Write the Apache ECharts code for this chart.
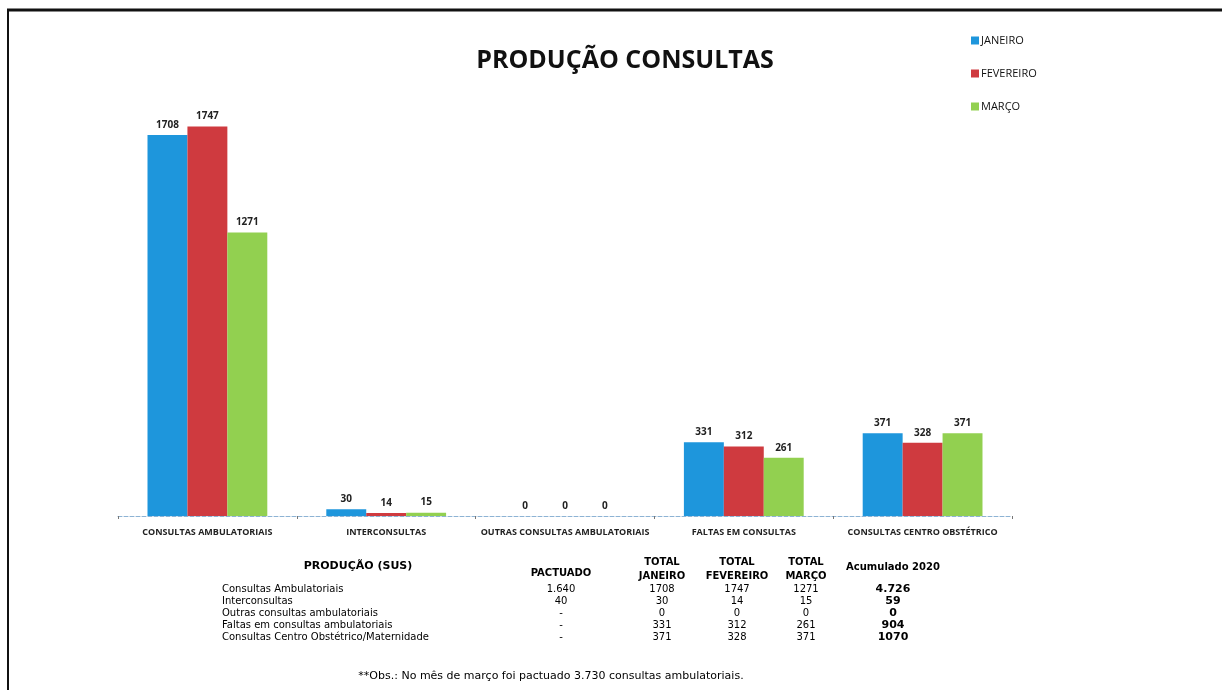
<!DOCTYPE html>
<html>
<head>
<meta charset="utf-8">
<script src="https://cdn.jsdelivr.net/npm/echarts@6/dist/echarts.min.js"></script>
<style>
  html, body { margin: 0; padding: 0; background: #fff; }
  #chart { width: 1222px; height: 698px; }
</style>
</head>
<body>
<div id="chart"></div>
<script>
const categories = ['CONSULTAS AMBULATORIAIS', 'INTERCONSULTAS', 'OUTRAS CONSULTAS AMBULATORIAIS', 'FALTAS EM CONSULTAS', 'CONSULTAS CENTRO OBSTÉTRICO'];
const janeiro = [1708, 30, 0, 331, 371];
const fevereiro = [1747, 14, 0, 312, 328];
const marco = [1271, 15, 0, 261, 371];

// table under the chart
const rowLabels = ['Consultas Ambulatoriais', 'Interconsultas', 'Outras consultas ambulatoriais', 'Faltas em consultas ambulatoriais', 'Consultas Centro Obstétrico/Maternidade'];
const pactuado = ['1.640', '40', '-', '-', '-'];
const acumulado = ['4.726', '59', '0', '904', '1070'];
const note = '**Obs.: No mês de março foi pactuado 3.730 consultas ambulatoriais.';

const COLORS = ['#1E96DC', '#CF3A3F', '#92D050'];
const TABLE_FONT = '"DejaVu Sans", Verdana, sans-serif';

const chart = echarts.init(document.getElementById('chart'), null, { renderer: 'canvas' });

function txt(x, y, text, opts = {}) {
  return {
    type: 'text', x, y,
    style: {
      text, fill: '#000',
      font: `${opts.bold ? 'bold ' : ''}${opts.size || 10}px ${TABLE_FONT}`,
      align: opts.align || 'center', verticalAlign: 'middle',
    },
  };
}

const rowY = [589, 601, 613, 625, 637];
const tableEls = [
  txt(358, 566, 'PRODUÇÃO (SUS)', { bold: true, size: 11 }),
  txt(561, 573, 'PACTUADO', { bold: true }),
  txt(662, 562, 'TOTAL', { bold: true }), txt(662, 576, 'JANEIRO', { bold: true }),
  txt(737, 562, 'TOTAL', { bold: true }), txt(737, 576, 'FEVEREIRO', { bold: true }),
  txt(806, 562, 'TOTAL', { bold: true }), txt(806, 576, 'MARÇO', { bold: true }),
  txt(893, 567, 'Acumulado 2020', { bold: true }),
  txt(551, 676, note, { size: 11 }),
];
rowLabels.forEach((l, i) => {
  tableEls.push(txt(222, rowY[i], l, { align: 'left' }));
  tableEls.push(txt(561, rowY[i], pactuado[i]));
  tableEls.push(txt(662, rowY[i], String(janeiro[i])));
  tableEls.push(txt(737, rowY[i], String(fevereiro[i])));
  tableEls.push(txt(806, rowY[i], String(marco[i])));
  tableEls.push(txt(893, rowY[i], acumulado[i], { bold: true, size: 11 }));
});

const barLabel = {
  show: true, position: 'top', distance: 5,
  fontSize: 10, fontWeight: 'bold', color: '#222',
  fontFamily: '"Open Sans", sans-serif',
};

function series(name, data, i) {
  return {
    name, type: 'bar', data,
    barGap: 0, barCategoryGap: '33%',
    itemStyle: { color: COLORS[i] },
    label: barLabel,
  };
}

chart.setOption({
  backgroundColor: '#fff',
  animation: false,
  title: {
    text: 'PRODUÇÃO CONSULTAS',
    left: 620, top: 43, textAlign: 'center',
    textStyle: { fontSize: 25, fontWeight: 'bold', color: '#111', fontFamily: '"Open Sans", sans-serif' },
  },
  legend: {
    orient: 'vertical', left: 966, top: 30, itemGap: 22,
    itemWidth: 8, itemHeight: 8, icon: 'rect',
    textStyle: { fontSize: 11, color: '#111', fontFamily: '"Open Sans", sans-serif', padding: [0, 0, 0, -3] },
  },
  grid: { left: 118, right: 210, top: 70, bottom: 182 },
  xAxis: {
    type: 'category', data: categories,
    axisLine: { lineStyle: { color: '#8DB3D4', width: 1, type: 'dashed' } },
    axisTick: { show: true, length: 3, lineStyle: { color: '#777' } },
    axisLabel: { interval: 0, fontSize: 9, color: '#222', fontWeight: 'bold', margin: 12, fontFamily: '"Open Sans", sans-serif' },
  },
  yAxis: { type: 'value', min: 0, max: 2000, show: false, splitLine: { show: false } },
  series: [
    series('JANEIRO', janeiro, 0),
    series('FEVEREIRO', fevereiro, 1),
    series('MARÇO', marco, 2),
  ],
  graphic: [
    { type: 'line', shape: { x1: 7, y1: 10, x2: 1222, y2: 10 }, style: { stroke: '#111', lineWidth: 3 } },
    { type: 'line', shape: { x1: 8, y1: 10, x2: 8, y2: 690 }, style: { stroke: '#111', lineWidth: 2 } },
    ...tableEls,
  ],
});
</script>
</body>
</html>
